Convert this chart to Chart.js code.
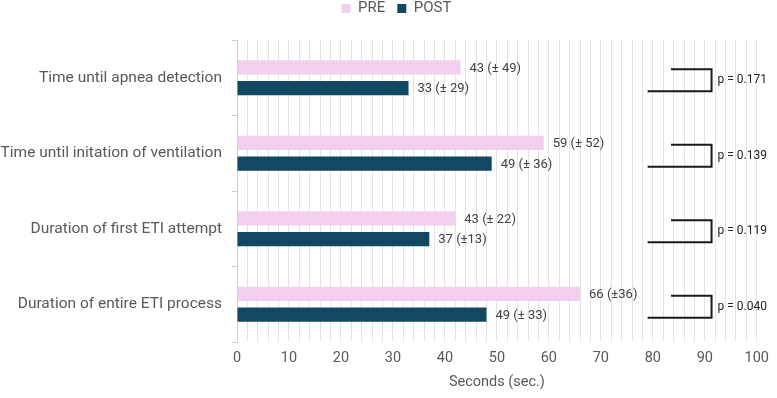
<!DOCTYPE html>
<html lang="en">

<head>
  <meta charset="UTF-8">
  <title>PRE vs POST</title>
  <script src="https://cdn.jsdelivr.net/npm/chart.js"></script>
  <style>
    html, body { margin: 0; padding: 0; background: #fff; }
    #wrap { width: 777px; height: 398px; }
  </style>
</head>

<body>
  <div id="wrap"><canvas id="myChart"></canvas></div>

  <script>
    // data
    const categories = [
      'Time until apnea detection',
      'Time until initation of ventilation',
      'Duration of first ETI attempt',
      'Duration of entire ETI process'
    ]
    const preValues = [43, 59, 42, 66]
    const postValues = [33, 49, 37, 48]
    const preLabels = ['43 (± 49)', '59 (± 52)', '43 (± 22)', '66 (±36)']
    const postLabels = ['33 (± 29)', '49 (± 36)', '37 (±13)', '49 (± 33)']
    const pValues = ['p = 0.171', 'p = 0.139', 'p = 0.119', 'p = 0.040']

    // bracket ends, in seconds on the x axis
    const bracketPreStart = [83.5, 83.5, 83.5, 83.5]
    const bracketPostStart = [79, 79, 79, 79]
    const bracketEnd = [91.3, 91.3, 91.3, 91.3]

    const FONT = 'Roboto, "Liberation Sans", sans-serif'
    const GREY = '#595959'

    // legend: taller box, items drawn higher and nudged right, like the original
    const legendTweak = {
      id: 'legendTweak',
      beforeInit(chart) {
        const fit = chart.legend.fit
        chart.legend.fit = function () {
          fit.call(this)
          this.height = 40
        }
      },
      afterLayout(chart) {
        chart.legend.left += 8
        chart.legend.right += 8
        chart.legend.top -= 11
      }
    }

    // value labels + significance brackets
    const annotate = {
      id: 'annotate',
      afterDatasetsDraw(chart) {
        const ctx = chart.ctx
        const x = chart.scales.x
        const pre = chart.getDatasetMeta(0).data
        const post = chart.getDatasetMeta(1).data
        const labels = [preLabels, postLabels]

        ctx.save()
        ctx.font = '13px ' + FONT
        ctx.fillStyle = '#404040'
        ctx.textBaseline = 'middle'
        ctx.textAlign = 'left'
        ;[pre, post].forEach((bars, d) => {
          bars.forEach((bar, i) => {
            ctx.fillText(labels[d][i], bar.x + 9, bar.y + 1)
          })
        })

        ctx.strokeStyle = '#1a1a1a'
        ctx.lineWidth = 2
        for (let i = 0; i < categories.length; i++) {
          const yTop = pre[i].y + 2
          const yBot = post[i].y + 3
          const xEnd = x.getPixelForValue(bracketEnd[i])
          ctx.beginPath()
          ctx.moveTo(x.getPixelForValue(bracketPreStart[i]), yTop)
          ctx.lineTo(xEnd, yTop)
          ctx.lineTo(xEnd, yBot)
          ctx.lineTo(x.getPixelForValue(bracketPostStart[i]), yBot)
          ctx.stroke()

          ctx.font = '12px ' + FONT
          ctx.fillStyle = '#222'
          ctx.fillText(pValues[i], xEnd + 6, (yTop + yBot) / 2)
        }
        ctx.restore()
      }
    }

    new Chart(document.getElementById('myChart'), {
      type: 'bar',
      data: {
        labels: categories,
        datasets: [{
          label: 'PRE',
          data: preValues,
          backgroundColor: '#f2ceef',
          barPercentage: 0.68,
          categoryPercentage: 0.55
        }, {
          label: 'POST',
          data: postValues,
          backgroundColor: '#124862',
          barPercentage: 0.68,
          categoryPercentage: 0.55
        }]
      },
      options: {
        indexAxis: 'y',
        responsive: true,
        maintainAspectRatio: false,
        animation: false,
        layout: { padding: { top: 0, right: 0, bottom: 0 } },
        plugins: {
          legend: {
            position: 'top',
            labels: {
              boxWidth: 9,
              boxHeight: 9,
              padding: 12,
              color: GREY,
              font: { family: FONT, size: 15 }
            }
          },
          tooltip: { enabled: false }
        },
        scales: {
          x: {
            min: 0,
            max: 100,
            border: { display: false },
            grid: { color: '#e3e3e3', drawTicks: false },
            ticks: {
              stepSize: 2,
              autoSkip: false,
              maxRotation: 0,
              padding: 8,
              color: GREY,
              font: { family: FONT, size: 14.5 },
              callback: v => (v % 10 === 0 ? v : '')
            },
            title: {
              display: true,
              text: 'Seconds (sec.)',
              color: GREY,
              font: { family: FONT, size: 14.5 },
              padding: { top: 0, bottom: 7 }
            },
            afterFit: s => { s.height = 56 }
          },
          y: {
            border: { color: '#d0d0d0' },
            grid: { drawOnChartArea: false, color: '#d0d0d0', tickLength: 5 },
            ticks: {
              padding: 10,
              color: GREY,
              font: { family: FONT, size: 15.5 }
            },
            afterFit: s => { s.width = 237 }
          }
        }
      },
      plugins: [legendTweak, annotate]
    })
  </script>
</body>

</html>
